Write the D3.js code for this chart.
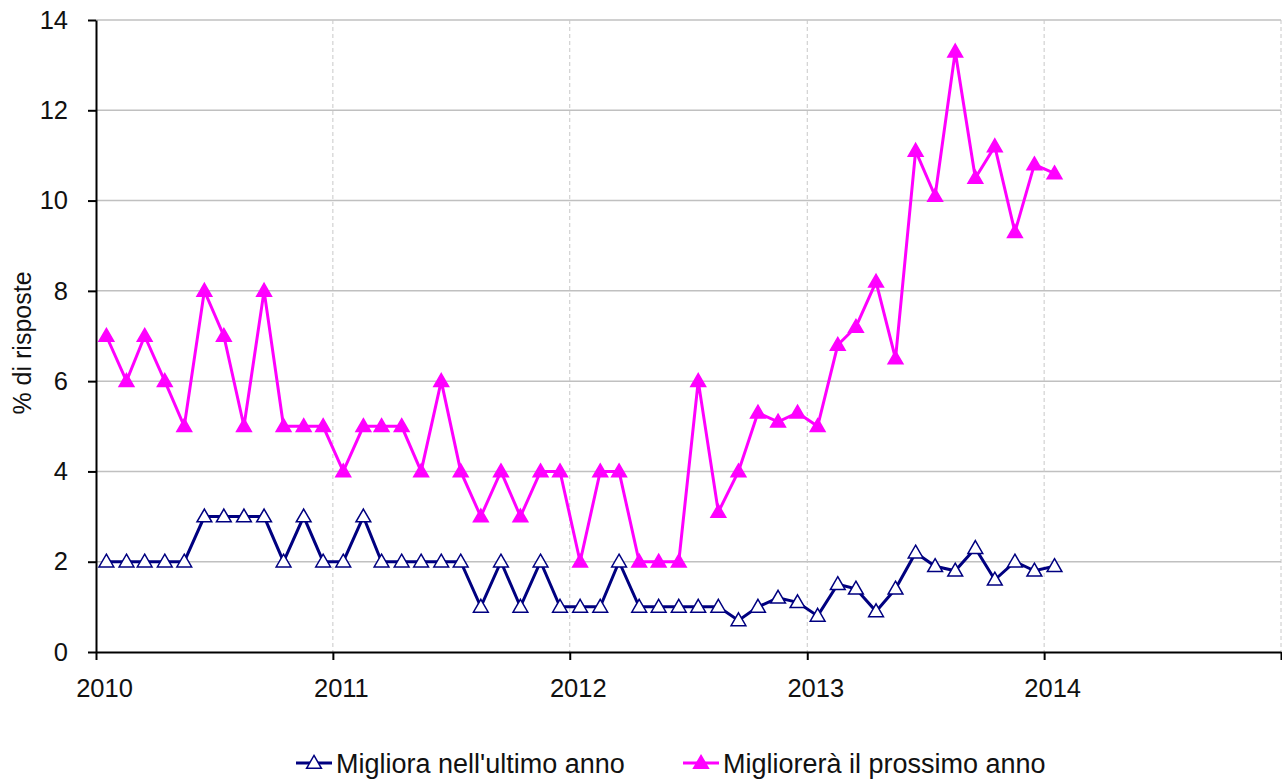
<!DOCTYPE html>
<html>
  <head>
    <meta charset="utf-8">
    <title>Migliora / Migliorerà</title>
    <style media="screen">
      body { margin: 0; background: white; }
      text { font-family: "Liberation Sans", Arial, sans-serif; fill: #111; }
      .axis path, .axis line { stroke: black; stroke-width: 2; }
      .grid-y line { stroke: #c0c0c0; stroke-width: 1.5; }
      .grid-x line { stroke: #c8c8c8; stroke-width: 1; stroke-dasharray: 4 3; }
      .legend text { font-size: 27px; }
    </style>
    <script src="https://d3js.org/d3.v7.min.js"></script>
  </head>
  <body>
    <script type="text/javascript">

      const margin = { top: 20, right: 1, bottom: 131, left: 96 };
      const width = 1282;
      const height = 783;

      // Jan 2010 .. Jan 2014, monthly
      const years = [2010, 2011, 2012, 2013, 2014];
      const yTicks = [0, 2, 4, 6, 8, 10, 12, 14];

      const migliora = [
        2, 2, 2, 2, 2, 3, 3, 3, 3, 2, 3, 2,
        2, 3, 2, 2, 2, 2, 2, 1, 2, 1, 2, 1,
        1, 1, 2, 1, 1, 1, 1, 1, 0.7, 1, 1.2, 1.1,
        0.8, 1.5, 1.4, 0.9, 1.4, 2.2, 1.9, 1.8, 2.3, 1.6, 2.0, 1.8,
        1.9
      ];

      const migliorera = [
        7, 6, 7, 6, 5, 8, 7, 5, 8, 5, 5, 5,
        4, 5, 5, 5, 4, 6, 4, 3, 4, 3, 4, 4,
        2, 4, 4, 2, 2, 2, 6, 3.1, 4, 5.3, 5.1, 5.3,
        5, 6.8, 7.2, 8.2, 6.5, 11.1, 10.1, 13.3, 10.5, 11.2, 9.3, 10.8,
        10.6
      ];

      const dates = migliora.map((d, i) => new Date(2010, i, 17));

      const series = [
        { name: "Migliora nell'ultimo anno", values: migliora, color: "#000080", fill: "white" },
        { name: "Migliorerà il prossimo anno", values: migliorera, color: "#ff00ff", fill: "#ff00ff" }
      ];

      const x = d3.scaleTime()
        .domain([new Date(2010, 0, 1), new Date(2015, 0, 1)])
        .range([margin.left, width - margin.right]);

      const y = d3.scaleLinear()
        .domain([0, 14])
        .range([height - margin.bottom, margin.top]);

      const svg = d3.select('body')
        .append('svg')
          .attr('width', width)
          .attr('height', height);

      const yearDates = years.concat([2015]).map(yr => new Date(yr, 0, 1));

      svg.append('g')
        .attr('class', 'grid-y')
        .selectAll('line')
        .data(yTicks.filter(t => t > 0))
        .enter()
        .append('line')
          .attr('x1', margin.left)
          .attr('x2', width - margin.right)
          .attr('y1', d => y(d))
          .attr('y2', d => y(d));

      svg.append('g')
        .attr('class', 'grid-x')
        .selectAll('line')
        .data(yearDates.slice(1))
        .enter()
        .append('line')
          .attr('x1', d => x(d))
          .attr('x2', d => x(d))
          .attr('y1', margin.top)
          .attr('y2', height - margin.bottom);

      const xAxis = d3.axisBottom(x)
        .tickValues(yearDates)
        .tickSize(8)
        .tickSizeOuter(0)
        .tickFormat(d => d.getFullYear() < 2015 ? d3.timeFormat('%Y')(d) : '');

      svg.append('g')
        .attr('class', 'x axis')
        .attr('transform', `translate(0, ${height - margin.bottom})`)
        .call(xAxis)
        .call(g => g.selectAll('text')
          .attr('y', 45)
          .attr('dy', 0)
          .attr('dx', 8)
          .style('font-family', '"Liberation Sans", Arial, sans-serif')
          .style('font-size', '25.5px')
          .style('fill', '#111'));

      const yAxis = d3.axisLeft(y)
        .tickValues(yTicks)
        .tickSize(8)
        .tickSizeOuter(0)
        .tickFormat(d3.format('d'));

      svg.append('g')
        .attr('class', 'y axis')
        .attr('transform', `translate(${margin.left}, 0)`)
        .call(yAxis)
        .call(g => g.selectAll('text')
          .attr('x', -28)
          .style('font-family', '"Liberation Sans", Arial, sans-serif')
          .style('font-size', '25.5px')
          .style('fill', '#111'));

      svg.append('text')
        .attr('transform', `translate(31, 343) rotate(-90)`)
        .attr('text-anchor', 'middle')
        .style('font-size', '25px')
        .text('% di risposte');

      const line = d3.line()
        .x((d, i) => x(dates[i]))
        .y(d => y(d));

      const tri = d3.symbol().type(d3.symbolTriangle).size(95);

      series.forEach(s => {
        svg.append('path')
          .datum(s.values)
          .attr('fill', 'none')
          .attr('stroke', s.color)
          .attr('stroke-width', 3)
          .attr('d', line);

        svg.append('g')
          .selectAll('path')
          .data(s.values)
          .enter()
          .append('path')
            .attr('d', tri)
            .attr('transform', (d, i) => `translate(${x(dates[i])}, ${y(d) + 1})`)
            .attr('fill', s.fill)
            .attr('stroke', s.color)
            .attr('stroke-width', 1.5);
      });

      const legend = svg.append('g').attr('class', 'legend');
      const legendX = [296, 683];

      series.forEach((s, i) => {
        const g = legend.append('g').attr('transform', `translate(${legendX[i]}, 763)`);
        g.append('line')
          .attr('x1', 0).attr('x2', 36)
          .attr('stroke', s.color).attr('stroke-width', 3);
        g.append('path')
          .attr('d', tri)
          .attr('transform', 'translate(18, 1)')
          .attr('fill', s.fill)
          .attr('stroke', s.color)
          .attr('stroke-width', 1.5);
        g.append('text')
          .attr('x', 40)
          .attr('dy', '0.36em')
          .text(s.name);
      });
    </script>
  </body>
</html>
